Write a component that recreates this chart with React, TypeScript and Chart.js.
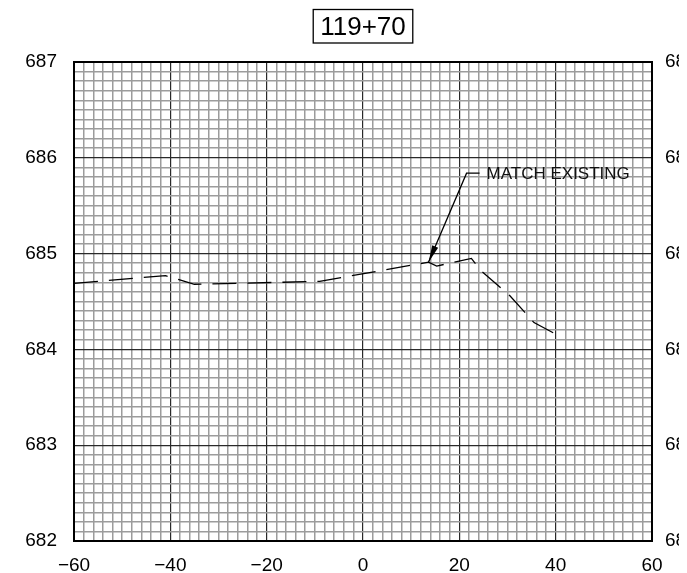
import React, { useEffect, useRef } from "react";
import { Chart, registerables } from "chart.js";

Chart.register(...registerables);

const stationLabel = "119+70";
const offsets = [-60, -41, -35, -9, 13.6, 15.3, 22.5, 24.5, 30.5, 35.5, 41.5];
const elevations = [684.69, 684.77, 684.68, 684.71, 684.91, 684.87, 684.95, 684.82, 684.56, 684.28, 684.12];
const xMin = -60;
const xMax = 60;
const yMin = 682;
const yMax = 687;
const xMinorStep = 2;
const xMajorStep = 20;
const yMinorStep = 0.1;
const yMajorStep = 1;
const calloutText = "MATCH EXISTING";
const calloutTarget = [13.6, 684.91];
const calloutElbow = [21.5, 685.84];

const FONT = "'Liberation Sans', Arial, sans-serif";

const isMultiple = (v: number, step: number) => {
  const r = v / step;
  return Math.abs(r - Math.round(r)) < 1e-6;
};

const fmt = (v: number) => {
  const n = Math.round(v);
  return n < 0 ? "\u2212" + Math.abs(n) : String(n);
};

const overlay = {
  id: "overlay",
  afterDraw(chart: any) {
    const { ctx, chartArea, scales } = chart;
    const x = scales.x;
    const y = scales.y;
    ctx.save();
    ctx.strokeStyle = "#000";
    ctx.lineWidth = 2;
    ctx.strokeRect(chartArea.left, chartArea.top, chartArea.right - chartArea.left, chartArea.bottom - chartArea.top);

    ctx.font = `26px ${FONT}`;
    ctx.fillStyle = "#000";
    ctx.textAlign = "center";
    ctx.textBaseline = "middle";
    const cx = (chartArea.left + chartArea.right) / 2;
    const tw = ctx.measureText(stationLabel).width;
    ctx.fillText(stationLabel, cx, 20);
    ctx.lineWidth = 1.3;
    ctx.strokeRect(cx - tw / 2 - 7, 1.5, tw + 14, 33.5);

    const tx = x.getPixelForValue(calloutTarget[0]);
    const ty = y.getPixelForValue(calloutTarget[1]);
    const ex = x.getPixelForValue(calloutElbow[0]);
    const ey = y.getPixelForValue(calloutElbow[1]);
    ctx.strokeStyle = "#000";
    ctx.lineWidth = 1.3;
    ctx.beginPath();
    ctx.moveTo(ex + 13, ey);
    ctx.lineTo(ex, ey);
    ctx.lineTo(tx, ty);
    ctx.stroke();
    const ang = Math.atan2(ey - ty, ex - tx);
    const L = 17;
    const W = 3.2;
    const bx = tx + Math.cos(ang) * L;
    const by = ty + Math.sin(ang) * L;
    ctx.beginPath();
    ctx.moveTo(tx, ty);
    ctx.lineTo(bx + Math.sin(ang) * W, by - Math.cos(ang) * W);
    ctx.lineTo(bx - Math.sin(ang) * W, by + Math.cos(ang) * W);
    ctx.closePath();
    ctx.fillStyle = "#000";
    ctx.fill();
    ctx.font = `17px ${FONT}`;
    ctx.textAlign = "left";
    ctx.textBaseline = "middle";
    ctx.fillStyle = "#111";
    ctx.fillText(calloutText, ex + 20, ey + 1);
    ctx.restore();
  },
};

export default function App() {
  const ref = useRef<HTMLCanvasElement | null>(null);
  useEffect(() => {
    if (!ref.current) return;
    const gridColorX = (c: any) => (isMultiple(c.tick.value, xMajorStep) ? "#2a2a2a" : "#9c9c9c");
    const gridWidthX = (c: any) => (isMultiple(c.tick.value, xMajorStep) ? 1.2 : 1.5);
    const gridColorY = (c: any) => (isMultiple(c.tick.value, yMajorStep) ? "#2a2a2a" : "#9c9c9c");
    const gridWidthY = (c: any) => (isMultiple(c.tick.value, yMajorStep) ? 1.2 : 1.5);
    const tickFont = { family: FONT, size: 19 };
    const chart = new Chart(ref.current, {
      type: "line",
      data: {
        datasets: [
          {
            data: offsets.map((o, i) => ({ x: o, y: elevations[i] })),
            borderColor: "#000",
            borderWidth: 1.3,
            borderDash: [24, 11],
            pointRadius: 0,
            tension: 0,
            fill: false,
          },
        ],
      },
      options: {
        animation: false,
        responsive: false,
        maintainAspectRatio: false,
        layout: { padding: { top: 54, left: 0, right: 0, bottom: 0 } },
        plugins: { legend: { display: false }, tooltip: { enabled: false }, title: { display: false } },
        scales: {
          x: {
            type: "linear",
            min: xMin,
            max: xMax,
            afterFit: (s: any) => {
              s.height = 32;
            },
            grid: { color: gridColorX, lineWidth: gridWidthX, drawTicks: false },
            border: { display: false },
            ticks: {
              stepSize: xMinorStep,
              autoSkip: false,
              maxRotation: 0,
              padding: 13,
              color: "#000",
              font: tickFont,
              callback: (v: any) => (isMultiple(Number(v), xMajorStep) ? fmt(Number(v)) : ""),
            },
          },
          y: {
            type: "linear",
            position: "left",
            min: yMin,
            max: yMax,
            afterFit: (s: any) => {
              s.width = 66;
            },
            grid: { color: gridColorY, lineWidth: gridWidthY, drawTicks: false },
            border: { display: false },
            ticks: {
              stepSize: yMinorStep,
              autoSkip: false,
              padding: 17,
              color: "#000",
              font: tickFont,
              callback: (v: any) => (isMultiple(Number(v), yMajorStep) ? fmt(Number(v)) : ""),
            },
          },
          y2: {
            type: "linear",
            position: "right",
            min: yMin,
            max: yMax,
            afterFit: (s: any) => {
              s.width = 35;
            },
            grid: { display: false, drawTicks: false },
            border: { display: false },
            ticks: {
              stepSize: yMinorStep,
              autoSkip: false,
              padding: 13,
              color: "#000",
              font: tickFont,
              callback: (v: any) => (isMultiple(Number(v), yMajorStep) ? fmt(Number(v)) : ""),
            },
          },
        },
      },
      plugins: [overlay],
    } as any);
    return () => chart.destroy();
  }, []);
  return <canvas ref={ref} width={679} height={565} style={{ display: "block" }} />;
}
